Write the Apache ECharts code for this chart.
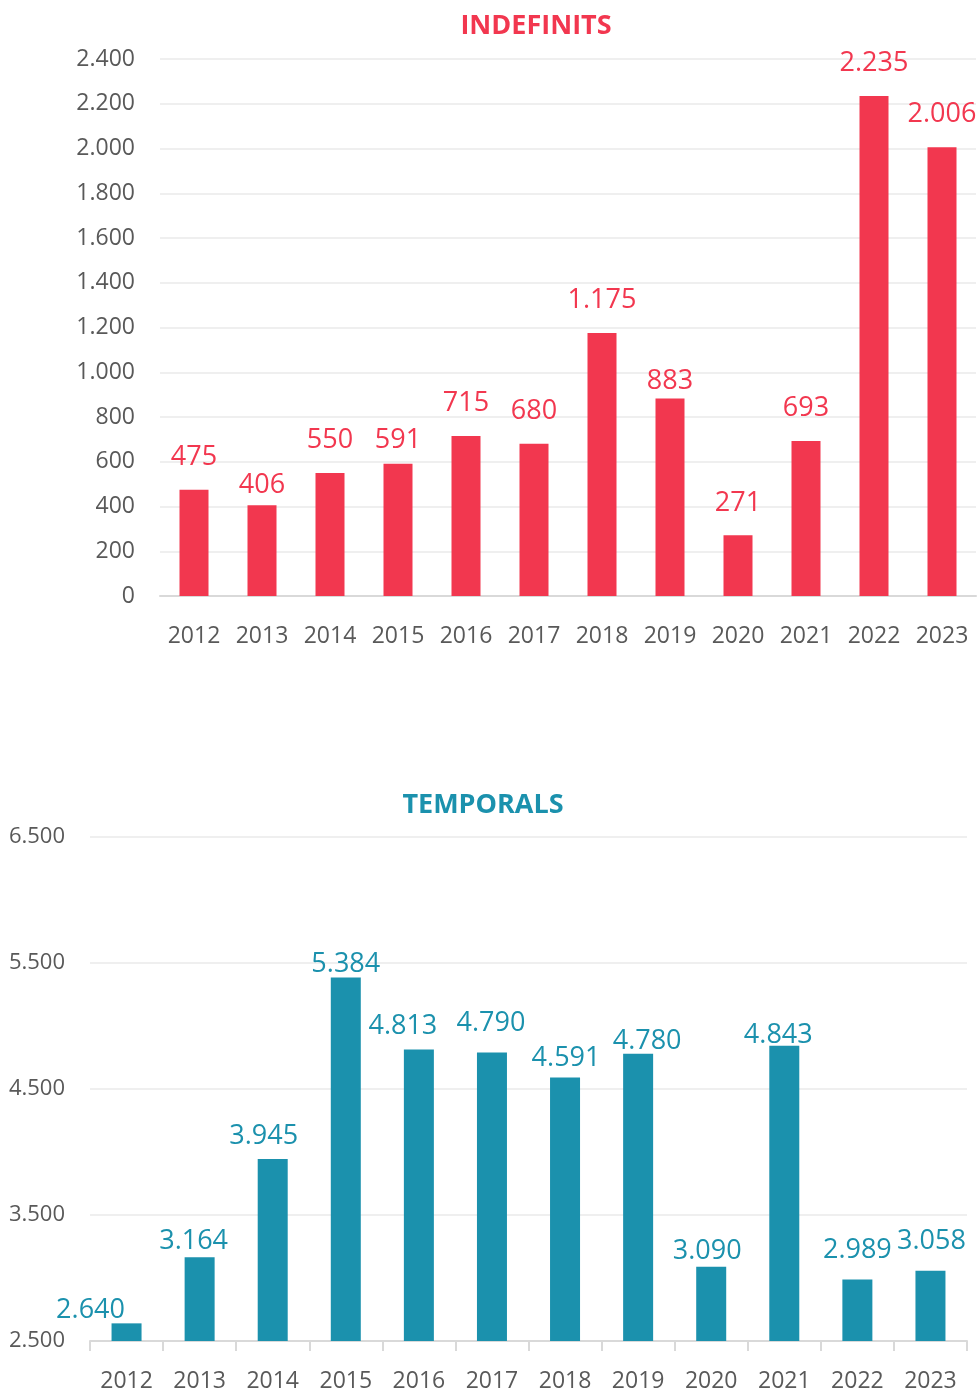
<!DOCTYPE html>
<html>
<head>
<meta charset="utf-8">
<script src="https://cdn.jsdelivr.net/npm/echarts@6/dist/echarts.min.js"></script>
<style>
  html, body { margin: 0; padding: 0; background: #fff; }
  #chart { width: 978px; height: 1393px; }
</style>
</head>
<body>
<div id="chart"></div>
<script>
const years = ['2012', '2013', '2014', '2015', '2016', '2017', '2018', '2019', '2020', '2021', '2022', '2023'];
const indefinits = [475, 406, 550, 591, 715, 680, 1175, 883, 271, 693, 2235, 2006];
const temporals = [2640, 3164, 3945, 5384, 4813, 4790, 4591, 4780, 3090, 4843, 2989, 3058];

// label nudges [dx, dy] like in the original sheet
const indefShift = [[0, 0], [0, 13], [0, 0], [0, 9], [0, 0], [0, 0], [0, 0], [0, 15], [0, 0], [0, 0], [0, 0], [0, 0]];
const tempShift = [[-36, 4], [-6, 1], [-9, -5], [0, 4], [-16, -6], [-1, -12], [1, -2], [9, 5], [-4, 2], [-6, 7], [0, -12], [1, -12]];

const RED = '#F2374F';
const TEAL = '#1B91AD';
const FONT = '"Open Sans", sans-serif';

const fmt = (v) => String(v).replace(/\B(?=(\d{3})+(?!\d))/g, '.');

function barData(values, shift) {
  return values.map((v, i) => ({
    value: v,
    label: { offset: shift[i] },
  }));
}

const chart = echarts.init(document.getElementById('chart'));

const axisLabel = {
  color: '#595959',
  fontSize: 23,
  fontFamily: FONT,
};

const option = {
  animation: false,
  title: [
    {
      text: 'INDEFINITS',
      left: 536,
      top: 13,
      padding: 0,
      textAlign: 'center',
      textStyle: { color: RED, fontSize: 27, fontWeight: 'bold', fontFamily: FONT },
    },
    {
      text: 'TEMPORALS',
      left: 483,
      top: 792,
      padding: 0,
      textAlign: 'center',
      textStyle: { color: TEAL, fontSize: 27, fontWeight: 'bold', fontFamily: FONT },
    },
  ],
  grid: [
    { left: 160, top: 59, width: 816, height: 537 },
    { left: 90, top: 837, width: 877, height: 510 },
  ],
  xAxis: [
    {
      type: 'category',
      gridIndex: 0,
      data: years,
      axisLine: { lineStyle: { color: '#D9D9D9', width: 2 } },
      axisTick: { show: false },
      axisLabel: { ...axisLabel, margin: 29, interval: 0 },
    },
    {
      type: 'category',
      gridIndex: 1,
      data: years,
      axisLine: { lineStyle: { color: '#D9D9D9', width: 2 } },
      axisTick: { show: true, length: 10, lineStyle: { color: '#D9D9D9', width: 2 } },
      axisLabel: { ...axisLabel, margin: 29, interval: 0 },
    },
  ],
  yAxis: [
    {
      type: 'value',
      gridIndex: 0,
      min: 0,
      max: 2400,
      interval: 200,
      axisLine: { show: false },
      axisTick: { show: false },
      splitLine: { lineStyle: { color: '#EFEFEF', width: 2 } },
      axisLabel: { ...axisLabel, margin: 25, formatter: fmt },
    },
    {
      type: 'value',
      gridIndex: 1,
      min: 2500,
      max: 6500,
      interval: 1000,
      axisLine: { show: false },
      axisTick: { show: false },
      splitLine: { lineStyle: { color: '#EFEFEF', width: 2 } },
      axisLabel: { ...axisLabel, fontSize: 22, margin: 25, formatter: fmt },
    },
  ],
  series: [
    {
      name: 'Indefinits',
      type: 'bar',
      xAxisIndex: 0,
      yAxisIndex: 0,
      barWidth: 29,
      itemStyle: { color: RED },
      label: {
        show: true,
        position: 'top',
        distance: 19,
        color: RED,
        fontSize: 27,
        fontFamily: FONT,
        formatter: (p) => fmt(p.value),
      },
      data: barData(indefinits, indefShift),
    },
    {
      name: 'Temporals',
      type: 'bar',
      xAxisIndex: 1,
      yAxisIndex: 1,
      barWidth: 30,
      itemStyle: { color: TEAL },
      label: {
        show: true,
        position: 'top',
        distance: 4,
        color: TEAL,
        fontSize: 27,
        fontFamily: FONT,
        formatter: (p) => fmt(p.value),
      },
      data: barData(temporals, tempShift),
    },
  ],
};

chart.setOption(option);
</script>
</body>
</html>
